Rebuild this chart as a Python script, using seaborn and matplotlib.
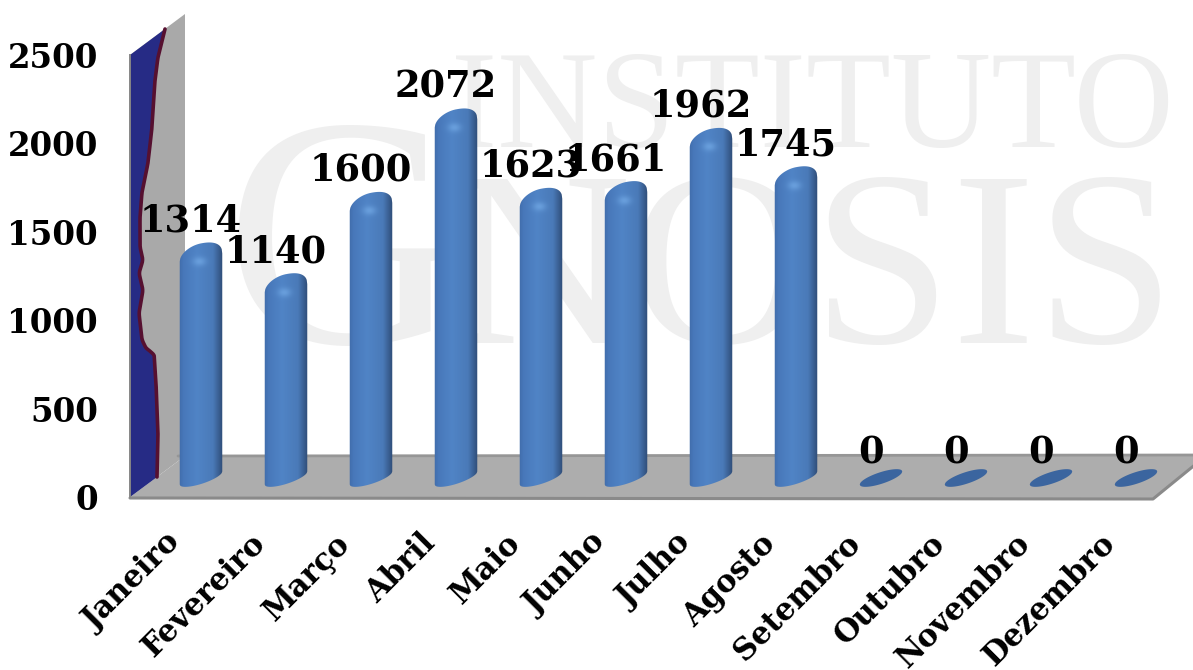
import numpy as np
import pandas as pd
import matplotlib
matplotlib.use("Agg")
import matplotlib.pyplot as plt
import matplotlib.transforms as mtrans
from matplotlib.path import Path
from matplotlib.patches import Polygon, PathPatch
import seaborn as sns

# Dados
MESES = ['Janeiro', 'Fevereiro', 'Março', 'Abril', 'Maio', 'Junho', 'Julho',
         'Agosto', 'Setembro', 'Outubro', 'Novembro', 'Dezembro']
VALORES = [1314, 1140, 1600, 2072, 1623, 1661, 1962, 1745, 0, 0, 0, 0]
TICKS_Y = [0, 500, 1000, 1500, 2000, 2500]

LARGURA, ALTURA = 1193, 670
FONTE = 'DejaVu Serif'

sns.set_theme(style="white")
plt.rcParams['font.family'] = [FONTE, 'DejaVu Sans']


def novo_eixo(fig, x0, x1, y_topo, y_base, zorder):
    """Cria um eixo a partir de coordenadas em pixels da imagem"""
    ax = fig.add_axes([x0 / LARGURA, 1 - y_base / ALTURA,
                       (x1 - x0) / LARGURA, (y_base - y_topo) / ALTURA], zorder=zorder)
    ax.patch.set_alpha(0)
    return ax


def contorno_cilindro(cx, raio, y_topo, y_base, plano=False):
    """Contorno do cilindro inclinado, com a tampa arredondada"""
    u = np.linspace(1, -1, 80)
    inc_topo = 6.5 if plano else 4.0
    abob = 6.0 if plano else 14.0
    # lado esquerdo mais suave, canto direito mais fechado
    expo = np.full_like(u, 2.0) if plano else np.where(u < 0, 1.9, 2.4)
    topo_x = cx + raio * u
    topo_y = y_topo - inc_topo * u - abob * (1 - np.abs(u) ** expo) ** (1 / expo)
    base_x = cx - raio * u
    base_y = y_base + 6.5 * u + 6.0 * np.sqrt(1 - u ** 2)
    xs = np.r_[topo_x, base_x, topo_x[0]]
    ys = np.r_[topo_y, base_y, topo_y[0]]
    return Path(np.column_stack([xs, ys]), closed=True)


def textura_cilindro(cx, raio, y_topo, y_base):
    """Gradiente horizontal azul e brilho no topo"""
    esq, dir_ = cx - raio - 1, cx + raio + 1
    sup, inf = y_topo - 20, y_base + 10
    xx, yy = np.meshgrid(np.linspace(esq, dir_, 90),
                         np.linspace(sup, inf, max(int(inf - sup), 2)))
    u = (xx - esq) / (dir_ - esq)
    pos = [0, .1, .4, .76, .92, 1]
    r = np.interp(u, pos, [64, 72, 80, 74, 54, 44])
    g = np.interp(u, pos, [108, 120, 132, 122, 88, 72])
    b = np.interp(u, pos, [170, 186, 198, 184, 136, 112])
    img = np.dstack([r, g, b])
    brilho = np.exp(-((xx - cx + 2) / 6.5) ** 2 - ((yy - y_topo - 4) / 4.5) ** 2)[..., None]
    img = img + (np.array([115, 170, 230]) - img) * brilho * .7
    return np.clip(img / 255, 0, 1), (esq, dir_, inf, sup)


def desenhar_paredes(ax):
    """Parede, piso, imagem azul e marca d'agua ao fundo"""
    cor_marca = '#efefef'
    ax.text(812, 147, 'INSTITUTO', fontsize=100, color=cor_marca, ha='center', va='baseline',
            family='Liberation Serif')
    ax.text(225, 343, 'G', fontsize=236, color=cor_marca, ha='left', va='baseline',
            family='Liberation Serif')
    ax.text(1176, 343, 'NOSIS', fontsize=181, color=cor_marca, ha='right', va='baseline',
            family='Liberation Serif')

    ax.add_patch(Polygon([(130, 55), (185, 14), (185, 456), (130, 497)], fc='#a9a9a9', ec='none'))
    ax.add_patch(Polygon([(130, 497), (185, 456), (1207, 455), (1153, 499)],
                         fc='#adadad', ec='none'))
    ax.plot([178, 1207], [456, 455], color='#969696', lw=2)
    ax.plot([130, 1153, 1207], [498, 499, 455], color='#8a8a8a', lw=2.2)

    perfil = np.array([(165, 29), (158, 57), (155, 80), (152, 127), (148, 163), (142, 192),
                       (140, 217), (140, 247), (143, 260), (139, 273), (143, 290), (139, 313),
                       (142, 340), (147, 350), (154, 353), (156, 383), (158, 433), (157, 477)], float)
    # suaviza a silhueta da imagem da parede
    yy = np.arange(perfil[0, 1], perfil[-1, 1] + 1)
    xx = np.interp(yy, perfil[:, 1], perfil[:, 0])
    nucleo = np.ones(7) / 7
    xx = np.r_[xx[:3], np.convolve(xx, nucleo, mode='valid'), xx[-3:]]
    contorno = np.column_stack([xx, yy])
    ax.add_patch(Polygon(np.vstack([[(130, 55)], contorno, [(130, 497)]]), fc='#262b85', ec='none'))
    ax.plot(xx, yy, color='#561030', lw=2.6, solid_capstyle='round')


fig = plt.figure(figsize=(LARGURA / 100, ALTURA / 100), dpi=100)

# Fundo em pixels
ax_fundo = novo_eixo(fig, 0, LARGURA, 0, ALTURA, 0)
ax_fundo.set_xlim(0, LARGURA)
ax_fundo.set_ylim(ALTURA, 0)
ax_fundo.axis('off')
desenhar_paredes(ax_fundo)

# Limites de x para que cada mes fique no centro da sua coluna
xlim = (-71 / 85, (1150 - 201) / 85)

# Eixo com as escalas visiveis
ax = novo_eixo(fig, 130, 1150, 55, 497, 1)
ax.set_xlim(*xlim)
ax.set_ylim(0, 2500)
ax.set_yticks(TICKS_Y)
ax.set_xticks(range(len(MESES)))
ax.set_xticklabels(MESES, rotation=45, ha='right', rotation_mode='anchor',
                   fontsize=22, fontweight='bold', color='black')
ax.tick_params(axis='y', length=7.2, width=1.4, color='#868686', pad=16, labelsize=23.5, labelcolor='black')
ax.tick_params(axis='x', length=0)
desloc = mtrans.ScaledTranslation(-36 / 100, -26 / 100, fig.dpi_scale_trans)
for lab in ax.get_xticklabels():
    lab.set_transform(lab.get_transform() + desloc)
for lab in ax.get_yticklabels():
    lab.set_fontweight('bold')
sns.despine(ax=ax, top=True, right=True, bottom=True)
ax.spines['left'].set_color('#868686')
ax.spines['left'].set_linewidth(1.4)

# Barras na mesma escala do eixo, deslocadas para o plano 3D
df = pd.DataFrame({'mes': MESES, 'valor': VALORES})
ax_barras = novo_eixo(fig, 130, 1150, 55 - 7.3, 497 - 7.3, 2)
sns.barplot(data=df, x='mes', y='valor', ax=ax_barras, width=0.5, color='#4f82c6', saturation=1)
ax_barras.set_xlim(*xlim)
ax_barras.set_ylim(0, 2500)
ax_barras.axis('off')

# Cilindros e rotulos sobre as barras
ax_cil = novo_eixo(fig, 0, LARGURA, 0, ALTURA, 3)
ax_cil.set_xlim(0, LARGURA)
ax_cil.set_ylim(ALTURA, 0)
ax_cil.axis('off')

Y_BASE = 478
fig.canvas.draw()
for barra, valor in zip(ax_barras.patches, VALORES):
    (x0, y0), (x1, y1) = ax_barras.transData.transform(
        [(barra.get_x(), 0), (barra.get_x() + barra.get_width(), barra.get_height())])
    cx, raio = (x0 + x1) / 2, (x1 - x0) / 2
    y_topo = ALTURA - y1
    barra.set_visible(False)

    if valor == 0:
        ax_cil.add_patch(PathPatch(contorno_cilindro(cx, raio, Y_BASE, Y_BASE, plano=True),
                                   fc='#3b659f', ec='none'))
        y_txt = Y_BASE - 15
    else:
        caminho = contorno_cilindro(cx, raio, y_topo, Y_BASE)
        img, ext = textura_cilindro(cx, raio, y_topo, Y_BASE)
        im = ax_cil.imshow(img, extent=ext, aspect='auto', interpolation='bilinear')
        im.set_clip_path(PathPatch(caminho, transform=ax_cil.transData))
        y_txt = y_topo - 26

    ax_cil.text(cx - 10, y_txt, str(valor), ha='center', va='baseline', fontsize=26.5,
                fontweight='bold', color='black', zorder=5)

ax_cil.set_xlim(0, LARGURA)
ax_cil.set_ylim(ALTURA, 0)

plt.savefig('out.png', dpi=100)
